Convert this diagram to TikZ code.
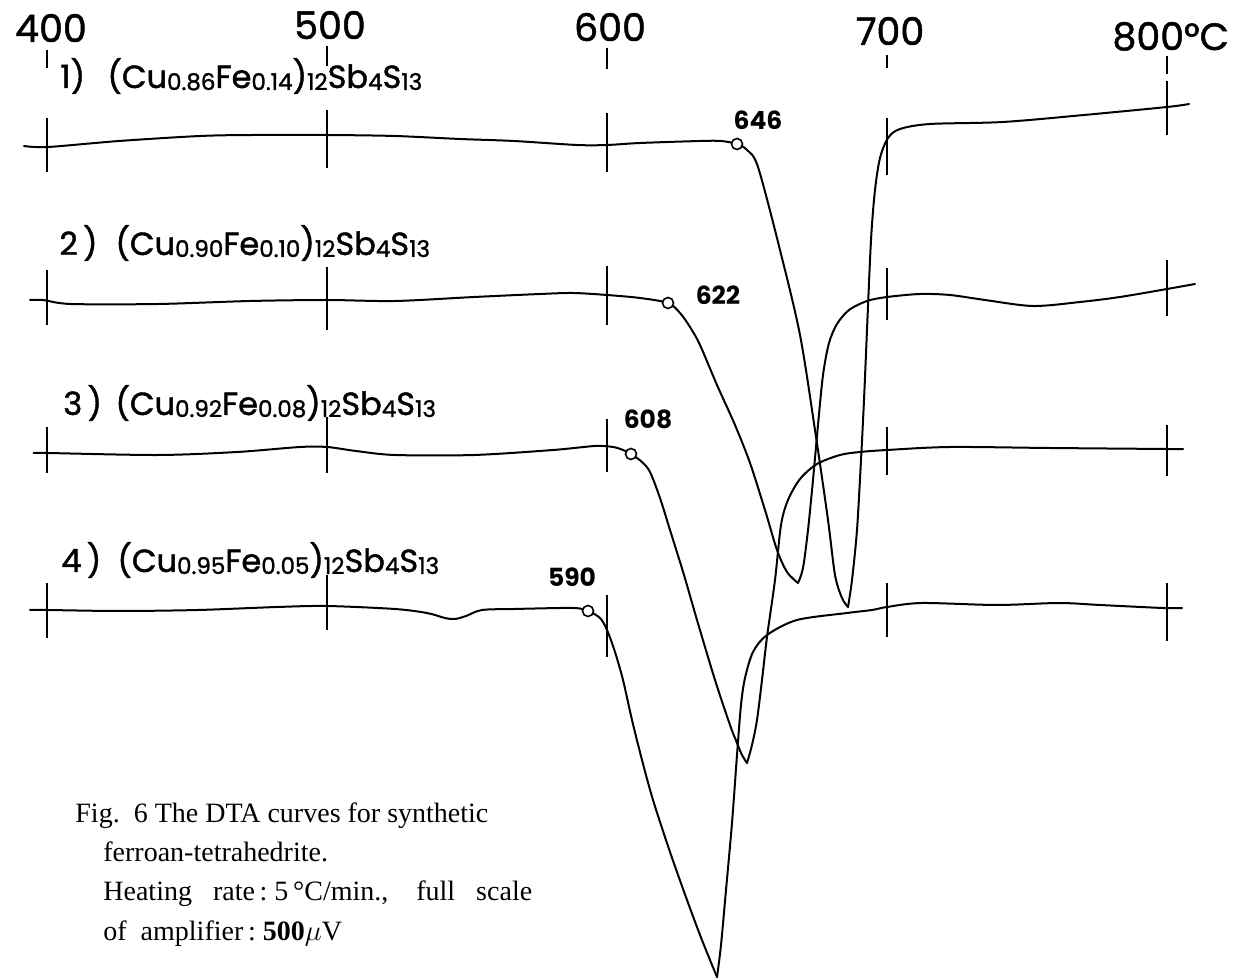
\documentclass[tikz,border=0pt]{standalone}
\usepackage{fontspec}
\setmainfont{Liberation Serif}
\newfontfamily\lab{Poppins}
\newfontfamily\labm{Poppins}[FakeBold=1.3]
\newcommand\sbx[1]{\raisebox{-1pt}{\fontsize{11.5}{11.5}\selectfont #1}}
\begin{document}
\begin{tikzpicture}[x=0.5pt,y=-0.5pt,
  curve/.style={line width=1.0pt, line join=round, line cap=round},
  tick/.style={line width=0.75pt},
  opt/.style={circle, draw, line width=0.8pt, fill=white, inner sep=0pt, minimum size=5.5pt},
  axl/.style={anchor=base, inner sep=0pt, font=\labm\fontsize{19}{19}\selectfont},
  rown/.style={anchor=base west, inner sep=0pt, font=\labm\fontsize{16}{16}\selectfont},
  num/.style={inner sep=0pt, font=\lab\bfseries\fontsize{12.5}{12.5}\selectfont},
  captext/.style={anchor=base west, inner sep=0pt, font=\fontsize{14}{14}\selectfont}]
\useasboundingbox (0,0) rectangle (1233,978);

% axis labels
\node[axl] (a400) at (51,42) {400};
\node[axl] (a500) at (330,39) {500};
\node[axl] (a600) at (610,41) {600};
\node[axl] (a700) at (890,45) {700};
\node[axl, anchor=base west] (a800) at (1112,50) {800°C};
\draw[tick] (47,50) -- (47,68);
\draw[tick] (327,46) -- (327,66);
\draw[tick] (607,48) -- (607,69);
\draw[tick] (887,55) -- (887,68);
\draw[tick] (1167,56) -- (1167,74);

% row labels
\node[rown] (n1) at (60,88) {1)};
\node[rown] (f1) at (107,88) {(Cu\sbx{0.86}Fe\sbx{0.14})\sbx{12}Sb\sbx{4}S\sbx{13}};
\node[rown] (n2) at (59,255) {2\,)};
\node[rown] (f2) at (115,255) {(Cu\sbx{0.90}Fe\sbx{0.10})\sbx{12}Sb\sbx{4}S\sbx{13}};
\node[rown] (n3) at (63,415) {3\,)};
\node[rown] (f3) at (115,415) {(Cu\sbx{0.92}Fe\sbx{0.08})\sbx{12}Sb\sbx{4}S\sbx{13}};
\node[rown] (n4) at (61,572) {4\,)};
\node[rown] (f4) at (117,572) {(Cu\sbx{0.95}Fe\sbx{0.05})\sbx{12}Sb\sbx{4}S\sbx{13}};

% row ticks
\foreach \x/\a/\b in {47/118/172, 327/110/168, 607/113/172, 887/118/175, 1167/81/135,
                      47/270/325, 327/267/330, 607/266/325, 887/268/320, 1167/260/316,
                      47/427/473, 327/417/473, 607/419/472, 887/427/475, 1167/425/476,
                      47/583/638, 327/575/630, 607/595/657, 887/583/637, 1167/583/641}
  \draw[tick] (\x,\a) -- (\x,\b);

% curve 1
\draw[curve] plot[smooth, tension=0.5] coordinates {(24,146) (48,147) (119,141) (200,136) (253,135) (327,135) (395,136) (460,139) (514,141) (577,145) (607,145) (640,143) (700,141) (721,141) (737,144) (747,150) (758,167) (780,250) (800,335) (815,430) (828,520) (835,575) (842,598) (848,607)};
\draw[curve] plot[smooth, tension=0.5] coordinates {(848,607) (852,580) (857,530) (861,460) (864,400) (867,330) (871,240) (875,190) (880,158) (888,138) (900,129) (930,124) (1003,122) (1084,115) (1167,107) (1189,104)};
% curve 2
\draw[curve] plot[smooth, tension=0.5] coordinates {(30,300) (43,300) (71,304) (158,304) (250,301) (327,300) (395,301) (474,297) (540,294) (573,293) (607,295) (640,298) (668,303) (680,313) (690,327) (700,345) (717,385) (735,425) (750,463) (765,510) (777,550) (787,572) (798,583)};
\draw[curve] plot[smooth, tension=0.5] coordinates {(798,583) (803,568) (808,530) (813,480) (818,425) (823,375) (829,343) (837,324) (849,310) (867,301) (887,297) (920,294) (950,295) (985,300) (1033,306) (1080,302) (1120,297) (1167,289) (1195,284)};
% curve 3
\draw[curve] plot[smooth, tension=0.5] coordinates {(34,453) (47,453) (158,455) (237,452) (300,447) (327,447) (356,451) (395,455) (474,455) (553,450) (595,446) (613,447) (623,450) (631,454) (642,462) (650,472) (660,498) (670,530) (684,575) (697,620) (715,680) (730,725) (737,743) (742,755) (747,763)};
\draw[curve] plot[smooth, tension=0.5] coordinates {(747,763) (752,745) (757,720) (762,680) (767,637) (775,580) (781,525) (788,500) (800,479) (817,464) (840,455) (860,452) (887,450) (950,447) (1050,448) (1167,449) (1183,449)};
% curve 4
\draw[curve] plot[smooth, tension=0.5] coordinates {(30,610) (47,610) (119,611) (198,610) (277,607) (327,606) (395,609) (427,613) (445,618) (455,619) (466,616) (482,610) (514,609) (573,608) (588,611) (600,618) (607,630) (615,652) (623,680) (632,720) (642,760) (653,800) (670,852) (687,900) (700,935) (710,960) (717,977)};
\draw[curve] plot[smooth, tension=0.5] coordinates {(717,977) (721,945) (726,890) (732,823) (737,755) (741,705) (745,678) (753,652) (767,635) (797,620) (847,613) (872,610) (887,607) (922,603) (997,605) (1059,603) (1100,605) (1163,608) (1182,608)};

% onset points
\node[opt] (p1) at (737,144) {};
\node[opt] (p2) at (668,303) {};
\node[opt] (p3) at (631,454) {};
\node[opt] (p4) at (588,611) {};
\node[num] (l1) at (758,120) {646};
\node[num] (l2) at (718,295) {622};
\node[num] (l3) at (648,419) {608};
\node[num] (l4) at (572,577) {590};

% caption
\node[captext] (c1) at (75,822) {Fig.\ \ 6 The DTA curves for synthetic};
\node[captext] (c2) at (103,861) {ferroan-tetrahedrite.};
\node[captext] (c3) at (103,900) {Heating\ \ \ rate\,:\ 5\,°C/min.,\ \ \ \ full\ \ \ scale};
\node[captext] (c4) at (103,940) {of\ \ amplifier\,:\ \textbf{500}$\mu$V};
\end{tikzpicture}
\end{document}
